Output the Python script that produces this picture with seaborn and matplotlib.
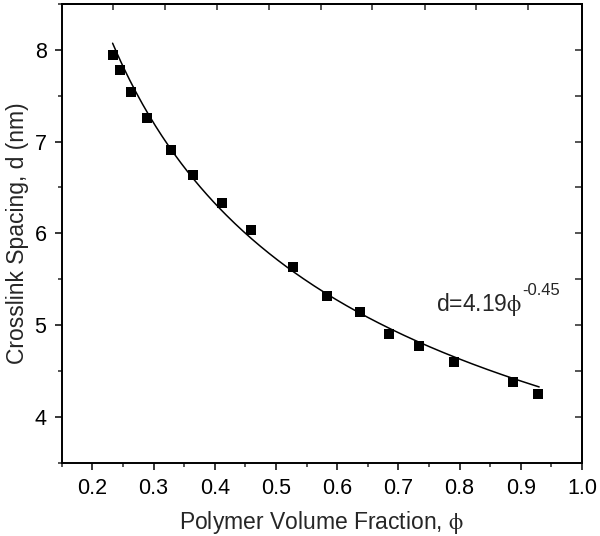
import numpy as np
import pandas as pd
import matplotlib
matplotlib.use("Agg")
import matplotlib.pyplot as plt
import seaborn as sns
from matplotlib.ticker import MultipleLocator

# Measured data: polymer volume fraction vs crosslink spacing (nm)
phi = [0.233, 0.245, 0.263, 0.290, 0.329, 0.365, 0.411, 0.459,
       0.527, 0.583, 0.638, 0.684, 0.733, 0.791, 0.887, 0.928]
spacing = [7.94, 7.78, 7.54, 7.26, 6.91, 6.64, 6.33, 6.04,
           5.64, 5.32, 5.14, 4.91, 4.77, 4.60, 4.38, 4.25]

# Power-law fit shown on the chart: d = 4.19 * phi^-0.45
fit_a = 4.19
fit_b = -0.45
fit_range = (0.233, 0.93)

# Tick labels
x_ticks = [0.2, 0.3, 0.4, 0.5, 0.6, 0.7, 0.8, 0.9, 1.0]
y_ticks = [4, 5, 6, 7, 8]
top_ticks = [0.233, 0.319, 0.404, 0.489, 0.574, 0.657, 0.743, 0.826, 0.912]

sns.set_style("ticks")
plt.rcParams['font.family'] = ['Liberation Sans', 'DejaVu Sans']
plt.rcParams['mathtext.fontset'] = 'stix'

df = pd.DataFrame({'phi': phi, 'd': spacing})
fit_x = np.linspace(fit_range[0], fit_range[1], 200)
fit_df = pd.DataFrame({'phi': fit_x, 'd': fit_a * fit_x ** fit_b})

fig = plt.figure(figsize=(6, 5.36), dpi=100)
ax = fig.add_axes([0.103, 0.136, 0.867, 0.857])

sns.lineplot(data=fit_df, x='phi', y='d', color='black', linewidth=1.1, ax=ax)
sns.scatterplot(data=df, x='phi', y='d', marker='s', s=50, color='black',
                linewidth=0, ax=ax, zorder=3)

ax.set_xlim(0.15, 1.0)
ax.set_ylim(3.5, 8.5)
ax.set_xticks(x_ticks)
ax.set_xticklabels([f"{v:.1f}" for v in x_ticks])
ax.set_yticks(y_ticks)
ax.xaxis.set_minor_locator(MultipleLocator(0.05))
ax.yaxis.set_minor_locator(MultipleLocator(0.5))
ax.tick_params(which='major', direction='out', length=5, width=1.1,
               labelsize=15.5, colors='black', pad=6)
ax.tick_params(which='minor', direction='out', length=3, width=1.1)

for side in ['left', 'right', 'top', 'bottom']:
    ax.spines[side].set_visible(True)
    ax.spines[side].set_linewidth(1.4)
    ax.spines[side].set_color('black')

sec_top = ax.secondary_xaxis('top')
sec_top.set_xticks(top_ticks)
sec_top.tick_params(direction='in', length=4, width=1.1, labeltop=False)
sec_top.spines['top'].set_linewidth(1.4)

sec_right = ax.secondary_yaxis('right')
sec_right.set_yticks(np.arange(4.0, 8.01, 0.5))
sec_right.tick_params(direction='in', length=5, width=1.1, labelright=False)
sec_right.spines['right'].set_linewidth(1.4)

ax.set_xlabel(r'Polymer Volume Fraction, $\mathrm{\phi}$', fontsize=16.5, labelpad=7)
ax.set_ylabel('Crosslink Spacing, d (nm)', fontsize=16.5, labelpad=4)

main = ax.text(0.762, 5.16, r'd=4.19$\mathrm{\phi}$', fontsize=16.5,
               ha='left', va='baseline')
ax.annotate('-0.45', xy=(1, 0.72), xycoords=main, fontsize=12,
            ha='left', va='bottom')

fig.savefig('out.png', dpi=100)
